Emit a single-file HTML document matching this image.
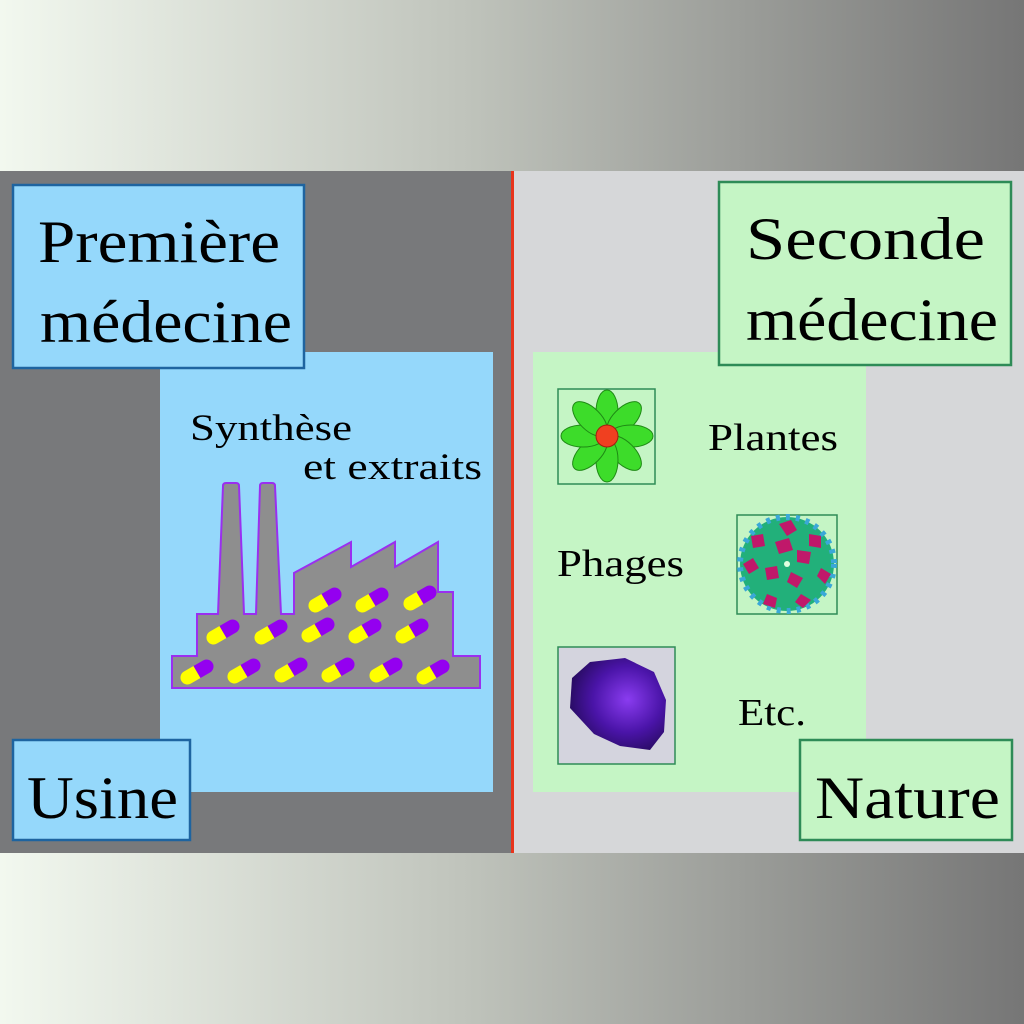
<!DOCTYPE html>
<html><head><meta charset="utf-8"><style>
html,body{margin:0;padding:0;background:#fff}
svg{display:block}
text{font-family:"Liberation Serif",serif;fill:#000}
</style></head><body>
<svg width="1024" height="1024" viewBox="0 0 1024 1024" xmlns="http://www.w3.org/2000/svg">
<defs>
<linearGradient id="g" x1="0" x2="1" y1="0" y2="0">
<stop offset="0" stop-color="#f2f8ef"/>
<stop offset="0.45" stop-color="#c0c4bc"/>
<stop offset="1" stop-color="#767676"/>
</linearGradient>
<g id="pill">
<path d="M0,-7 L-11,-7 A7,7 0 0 0 -11,7 L0,7 Z" fill="#ffff00"/>
<path d="M0,-7 L11,-7 A7,7 0 0 1 11,7 L0,7 Z" fill="#9400f0"/>
</g>
<radialGradient id="cr" cx="0.6" cy="0.45" r="0.6">
<stop offset="0" stop-color="#8a3cf0"/>
<stop offset="0.6" stop-color="#4a14a8"/>
<stop offset="1" stop-color="#2a0c66"/>
</radialGradient>
</defs>
<rect x="0" y="0" width="1024" height="171" fill="url(#g)"/>
<rect x="0" y="853" width="1024" height="171" fill="url(#g)"/>
<rect x="0" y="171" width="512" height="682" fill="#78797b"/>
<rect x="514" y="171" width="510" height="682" fill="#d6d7d9"/>
<rect x="511" y="171" width="3" height="682" fill="#e8341c"/>

<!-- left -->
<rect x="160" y="352" width="333" height="440" fill="#95d8fb"/>
<rect x="13" y="185" width="291" height="183" fill="#95d8fb" stroke="#1e64a0" stroke-width="2.5"/>
<text x="38" y="262" font-size="60" textLength="242" lengthAdjust="spacingAndGlyphs">Première</text>
<text x="40" y="342" font-size="60" textLength="252" lengthAdjust="spacingAndGlyphs">médecine</text>
<rect x="13" y="740" width="177" height="100" fill="#95d8fb" stroke="#1e64a0" stroke-width="2.5"/>
<text x="27" y="818" font-size="60" textLength="151" lengthAdjust="spacingAndGlyphs">Usine</text>
<text x="190" y="440" font-size="37" textLength="162" lengthAdjust="spacingAndGlyphs">Synthèse</text>
<text x="303" y="479" font-size="37" textLength="179" lengthAdjust="spacingAndGlyphs">et extraits</text>

<path d="M172,688 L172,656 L197,656 L197,614 L218,614 L223,486 Q223,483 226,483 L236,483 Q239,483 239,486 L244,614 L256,614 L260,486 Q260,483 263,483 L272,483 Q275,483 275,486 L281,614 L294,614 L294,573 L351,542 L351,567 L395,542 L395,567 L438,542 L438,592 L453,592 L453,656 L480,656 L480,688 Z" fill="#8e8e8e" stroke="#9a2ff0" stroke-width="2"/>
<g>
<use href="#pill" transform="translate(325,600) rotate(-30)"/>
<use href="#pill" transform="translate(372,600) rotate(-30)"/>
<use href="#pill" transform="translate(420,598) rotate(-30)"/>
<use href="#pill" transform="translate(223,632) rotate(-30)"/>
<use href="#pill" transform="translate(271,632) rotate(-30)"/>
<use href="#pill" transform="translate(318,630) rotate(-30)"/>
<use href="#pill" transform="translate(365,631) rotate(-30)"/>
<use href="#pill" transform="translate(412,631) rotate(-30)"/>
<use href="#pill" transform="translate(197,672) rotate(-30)"/>
<use href="#pill" transform="translate(244,671) rotate(-30)"/>
<use href="#pill" transform="translate(291,670) rotate(-30)"/>
<use href="#pill" transform="translate(338,670) rotate(-30)"/>
<use href="#pill" transform="translate(386,670) rotate(-30)"/>
<use href="#pill" transform="translate(433,672) rotate(-30)"/>
</g>

<!-- right -->
<rect x="533" y="352" width="333" height="440" fill="#c5f5c5"/>
<rect x="719" y="182" width="292" height="183" fill="#c5f5c5" stroke="#2e8b57" stroke-width="2.5"/>
<text x="746" y="259" font-size="60" textLength="239" lengthAdjust="spacingAndGlyphs">Seconde</text>
<text x="746" y="340" font-size="60" textLength="252" lengthAdjust="spacingAndGlyphs">médecine</text>
<rect x="800" y="740" width="212" height="100" fill="#c5f5c5" stroke="#2e8b57" stroke-width="2.5"/>
<text x="815" y="818" font-size="60" textLength="185" lengthAdjust="spacingAndGlyphs">Nature</text>
<text x="708" y="450" font-size="38" textLength="130" lengthAdjust="spacingAndGlyphs">Plantes</text>
<text x="557" y="576" font-size="38" textLength="127" lengthAdjust="spacingAndGlyphs">Phages</text>
<text x="738" y="725" font-size="38" textLength="68" lengthAdjust="spacingAndGlyphs">Etc.</text>

<!-- flower -->
<rect x="558" y="389" width="97" height="95" fill="#c5f5c5" stroke="#2e8b57" stroke-width="1.5"/>
<g transform="translate(607,436)" fill="#3ddc2a" stroke="#1e8a14" stroke-width="1">
<ellipse cx="0" cy="-24" rx="11" ry="22" transform="rotate(0)"/>
<ellipse cx="0" cy="-24" rx="11" ry="22" transform="rotate(45)"/>
<ellipse cx="0" cy="-24" rx="11" ry="22" transform="rotate(90)"/>
<ellipse cx="0" cy="-24" rx="11" ry="22" transform="rotate(135)"/>
<ellipse cx="0" cy="-24" rx="11" ry="22" transform="rotate(180)"/>
<ellipse cx="0" cy="-24" rx="11" ry="22" transform="rotate(225)"/>
<ellipse cx="0" cy="-24" rx="11" ry="22" transform="rotate(270)"/>
<ellipse cx="0" cy="-24" rx="11" ry="22" transform="rotate(315)"/>
<circle r="11" fill="#f04020" stroke="#a02010"/>
</g>

<!-- virus -->
<rect x="737" y="515" width="100" height="99" fill="#c5f5c5" stroke="#2e8b57" stroke-width="1.5"/>
<g transform="translate(787,564)">
<circle r="47" fill="#22b07a"/>
<circle r="47" fill="none" stroke="#3aa8d8" stroke-width="6" stroke-dasharray="4 6"/>
<g fill="#c0186a">
<path d="M-8,-40 l12,-4 l6,10 l-10,6 z"/>
<path d="M22,-30 l12,2 l0,12 l-12,-2 z"/>
<path d="M34,4 l10,6 l-6,10 l-8,-8 z"/>
<path d="M14,30 l10,6 l-8,8 l-8,-6 z"/>
<path d="M-20,30 l10,4 l-2,10 l-12,-4 z"/>
<path d="M-44,0 l10,-6 l6,10 l-10,6 z"/>
<path d="M-36,-28 l12,-2 l2,12 l-12,2 z"/>
<path d="M-12,-22 l14,-4 l4,12 l-14,4 z"/>
<path d="M10,-14 l14,2 l-2,12 l-12,-2 z"/>
<path d="M4,8 l12,6 l-6,10 l-10,-6 z"/>
<path d="M-22,4 l12,-2 l2,12 l-12,2 z"/>
</g>
<circle r="3" fill="#e0ffe0"/>
</g>

<!-- crystal -->
<rect x="558" y="647" width="117" height="117" fill="#d4d4de" stroke="#2e8b57" stroke-width="1.5"/>
<path d="M572,678 L590,662 L625,658 L654,672 L666,700 L664,732 L650,750 L620,746 L594,734 L570,708 Z" fill="url(#cr)"/>
</svg>
</body></html>
